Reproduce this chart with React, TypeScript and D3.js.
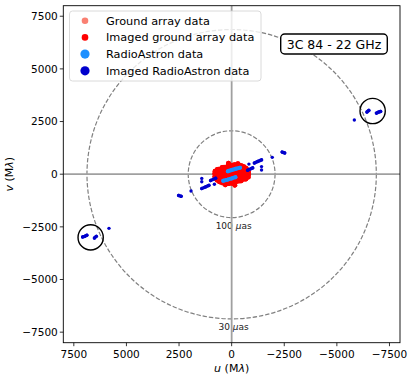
import React from "react";
import * as d3 from "d3";

type UV = [number, number];

// uv tracks (one half; the conjugate half is drawn as (-u,-v))
const groundTracks: UV[][] = [
  [[800, 40], [600, 60], [400, 50], [200, 30], [0, 40], [-200, 50], [-400, 60], [-600, 40], [-790, 20]],
  [[790, 140], [600, 160], [400, 170], [200, 150], [0, 160], [-200, 170], [-400, 180], [-600, 160], [-800, 110]],
  [[680, 230], [450, 260], [250, 270], [50, 280], [-150, 290], [-350, 290], [-550, 270], [-760, 210]],
  [[450, 320], [250, 340], [100, 350], [-100, 370], [-300, 370], [-500, 340], [-680, 290]],
  [[150, 430], [0, 420], [-150, 450], [-300, 440], [-450, 410], [-580, 360]],
  [[150, 520], [130, 470]],
  [[-300, 500], [-280, 460]],
];

const radioAstronTracks: UV[][] = [
  [[180, 140], [0, 200], [-200, 260], [-400, 310]],
];

const imagedRadioAstron: UV[][] = [
  [[-760, 190], [-1000, 300]],
  [[-820, 480]],
  [[-1080, 530], [-1250, 610], [-1420, 680]],
  [[-1420, 200]],
  [[-1420, 360]],
  [[-1930, 800]],
  [[-2400, 1050], [-2520, 1010]],
  [[-5830, 2570]],
  [[-6430, 2950], [-6520, 3030]],
  [[-6880, 2900], [-6990, 2950], [-7080, 2980]],
];

const xTicks = [7500, 5000, 2500, 0, -2500, -5000, -7500];
const yTicks = [7500, 5000, 2500, 0, -2500, -5000, -7500];

const fringeRadii = [2063, 6875];
const fringeLabels = ["100 ", "30 "];

const highlightCenters: UV[] = [[-6700, 3000], [6700, -3000]];
const highlightRadius = 600;

const legendLabels = ["Ground array data", "Imaged ground array data", "RadioAstron data", "Imaged RadioAstron data"];
const legendColors = ["#fa8072", "#ff0000", "#1e90ff", "#0000cd"];
const legendSizes = [3.3, 3.3, 4.6, 4.6];

const title = "3C 84 - 22 GHz";

const W = 415;
const H = 379;
const left = 63.3, right = 400, top = 5.7, bottom = 342.7;

const x = d3.scaleLinear().domain([8000, -8000]).range([left, right]);
const y = d3.scaleLinear().domain([-8000, 8000]).range([bottom, top]);

const line = d3
  .line<UV>()
  .x((d) => x(d[0]))
  .y((d) => y(d[1]));

const conj = (t: UV[]): UV[] => t.map(([u, v]) => [-u, -v] as UV);

const font = "DejaVu Sans, sans-serif";

function Tracks({ tracks, color, r }: { tracks: UV[][]; color: string; r: number }) {
  const all = tracks.flatMap((t) => [t, conj(t)]);
  return (
    <g>
      {all.map((t, i) =>
        t.length > 1 ? (
          <path
            key={"p" + i}
            d={line(t) || ""}
            fill="none"
            stroke={color}
            strokeWidth={r * 2}
            strokeLinecap="round"
            strokeLinejoin="round"
          />
        ) : null
      )}
      {all.flatMap((t, i) =>
        t.map((d, j) => <circle key={i + "-" + j} cx={x(d[0])} cy={y(d[1])} r={r} fill={color} />)
      )}
    </g>
  );
}

export default function App() {
  const px = (v: number) => Math.abs(x(v) - x(0));
  return (
    <svg width={W} height={H} style={{ position: "absolute", left: 0, top: 0 }} fontFamily={font}>
      <rect width={W} height={H} fill="white" />
      <defs>
        <clipPath id="plot">
          <rect x={left} y={top} width={right - left} height={bottom - top} />
        </clipPath>
      </defs>
      <g clipPath="url(#plot)">
        {/* fringe-spacing circles */}
        {fringeRadii.map((r, i) => (
          <g key={i}>
            <circle
              cx={x(0)}
              cy={y(0)}
              r={px(r)}
              fill="none"
              stroke="#808080"
              strokeWidth={1.2}
              strokeDasharray="4.4,1.9"
            />
            <text x={x(0) + 2} y={y(-r) + 11} fontSize={9} textAnchor="middle" fill="#222">
              {fringeLabels[i]}
              <tspan fontStyle="italic">μ</tspan>as
            </text>
          </g>
        ))}
        {/* zero lines */}
        <line x1={x(0)} x2={x(0)} y1={top} y2={bottom} stroke="#a0a0a0" strokeWidth={1.8} />
        <line x1={left} x2={right} y1={y(0)} y2={y(0)} stroke="#a0a0a0" strokeWidth={1.8} />

        <Tracks tracks={groundTracks} color="#ff0000" r={2.4} />
        <Tracks tracks={radioAstronTracks} color="#1e90ff" r={2} />
        <Tracks tracks={imagedRadioAstron} color="#0000cd" r={1.7} />

        {highlightCenters.map((c, i) => (
          <circle key={i} cx={x(c[0])} cy={y(c[1])} r={px(highlightRadius)} fill="none" stroke="black" strokeWidth={1.4} />
        ))}
      </g>

      {/* axes frame */}
      <rect x={left} y={top} width={right - left} height={bottom - top} fill="none" stroke="black" strokeWidth={0.9} />

      {xTicks.map((t) => (
        <g key={"x" + t}>
          <line x1={x(t)} x2={x(t)} y1={bottom} y2={bottom + 3.5} stroke="black" strokeWidth={0.8} />
          <text x={x(t)} y={bottom + 15} fontSize={10.5} textAnchor="middle">
            {t < 0 ? "\u2212" + Math.abs(t) : t}
          </text>
        </g>
      ))}
      {yTicks.map((t) => (
        <g key={"y" + t}>
          <line x1={left - 3.5} x2={left} y1={y(t)} y2={y(t)} stroke="black" strokeWidth={0.8} />
          <text x={left - 5.5} y={y(t) + 3.8} fontSize={10.5} textAnchor="end">
            {t < 0 ? "\u2212" + Math.abs(t) : t}
          </text>
        </g>
      ))}

      <text x={x(0)} y={372} fontSize={11} textAnchor="middle">
        <tspan fontStyle="italic">u</tspan> (M<tspan fontStyle="italic">λ</tspan>)
      </text>
      <text transform={`translate(13,${y(0)}) rotate(-90)`} fontSize={11} textAnchor="middle">
        <tspan fontStyle="italic">v</tspan> (M<tspan fontStyle="italic">λ</tspan>)
      </text>

      {/* legend */}
      <rect x={69.5} y={11} width={191.5} height={70} rx={3} fill="white" fillOpacity={0.8} stroke="#d0d0d0" strokeWidth={0.8} />
      {legendLabels.map((l, i) => (
        <g key={l}>
          <circle cx={85} cy={20.7 + i * 16.7} r={legendSizes[i]} fill={legendColors[i]} />
          <text x={106} y={20.7 + i * 16.7 + 4} fontSize={11.3}>
            {l}
          </text>
        </g>
      ))}

      {/* title box */}
      <rect x={280.7} y={34} width={106.6} height={20} rx={4} fill="white" stroke="black" strokeWidth={1.4} />
      <text x={334} y={48.5} fontSize={12.5} textAnchor="middle">
        {title}
      </text>
    </svg>
  );
}
